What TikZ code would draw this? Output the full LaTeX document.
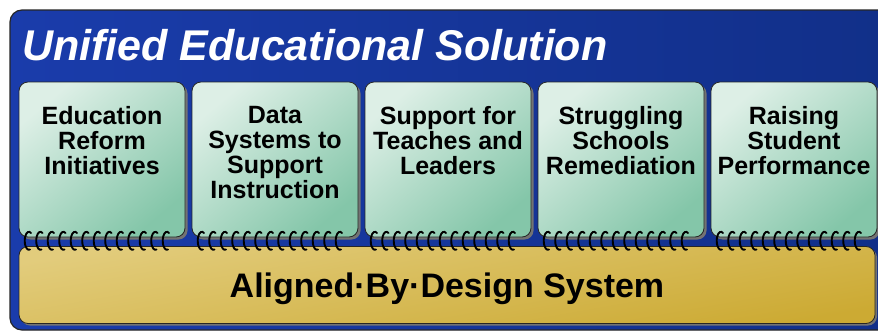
\documentclass[tikz,border=0pt]{standalone}
\usepackage{fontspec}
\setmainfont{Liberation Sans}
\usetikzlibrary{positioning,shadows}
\definecolor{navy}{HTML}{1A3CAB}
\definecolor{navydk}{HTML}{112F88}
\definecolor{mint}{HTML}{DDEFE6}
\definecolor{mintdk}{HTML}{84C6A9}
\definecolor{sand}{HTML}{E2CC7C}
\definecolor{sanddk}{HTML}{CCAA33}
\definecolor{rim}{HTML}{262626}
\definecolor{shadowgray}{HTML}{737373}
\tikzset{
  frame/.style={draw=rim, line width=1.2pt, rounded corners=12pt},
  card/.style={draw=rim, line width=0.8pt, rounded corners=9pt,
    top color=mint, bottom color=mintdk, shading angle=40,
    minimum width=166pt, minimum height=155pt, inner sep=0pt, outer sep=0pt,
    drop shadow={shadow xshift=2.5pt, shadow yshift=-2.5pt, fill=shadowgray, opacity=1}},
  cardtext/.style={text=black, font=\fontsize{25}{25}\selectfont\bfseries, align=center, inner sep=0pt},
  slab/.style={draw=rim, line width=0.8pt, rounded corners=9pt,
    top color=sand, bottom color=sanddk, shading angle=10,
    minimum width=856pt, minimum height=77pt, inner sep=0pt, outer sep=0pt,
    drop shadow={shadow xshift=2pt, shadow yshift=-2pt, fill=shadowgray, opacity=1}},
  slabtext/.style={text=black, font=\fontsize{34}{34}\selectfont\bfseries, inner sep=0pt},
  title/.style={text=white, font=\fontsize{43}{43}\selectfont\bfseries\itshape, inner sep=0pt},
  coil/.style={draw=black, line width=1.9pt, line cap=round},
}
\begin{document}
\begin{tikzpicture}[x=1pt, y=-1pt]
\useasboundingbox (0,0) rectangle (878,332);
\begin{scope}
\clip (0,0) rectangle (878,332);
% outer panel
\path[frame, left color=navy, right color=navydk] (10,10) rectangle (905,330);
\node[title, anchor=base west] (head) at (22,60) {Unified Educational Solution};

% base layer
\node[slab] (base) at (447,285) {};
\node[slabtext, anchor=base] (basetext) at (447,297) {Aligned·By·Design System};

% five pillars
\node[card] (b1) at (102,159.5) {};
\node[card, right=7pt of b1] (b2) {};
\node[card, right=7pt of b2] (b3) {};
\node[card, right=7pt of b3] (b4) {};
\node[card, right=7pt of b4] (b5) {};

\node[cardtext, below=24pt of b1.north] (t1) {Education\\Reform\\Initiatives};
\node[cardtext, below=24pt of b2.north] (t2) {Data\\Systems to\\Support\\Instruction};
\node[cardtext, below=24pt of b3.north] (t3) {Support for\\Teaches and\\Leaders};
\node[cardtext, below=24pt of b4.north] (t4) {Struggling\\Schools\\Remediation};
\node[cardtext, below=24pt of b5.north] (t5) {Raising\\Student\\Performance};

% binding coils
\foreach \b in {b1,b2,b3,b4,b5}
  \foreach \k in {0,...,12}
    \draw[coil] ([xshift=12pt+\k*11.5pt, yshift=4pt]\b.south west)
      arc[start angle=60, end angle=285, x radius=4.2pt, y radius=9pt];
\end{scope}
\end{tikzpicture}
\end{document}
